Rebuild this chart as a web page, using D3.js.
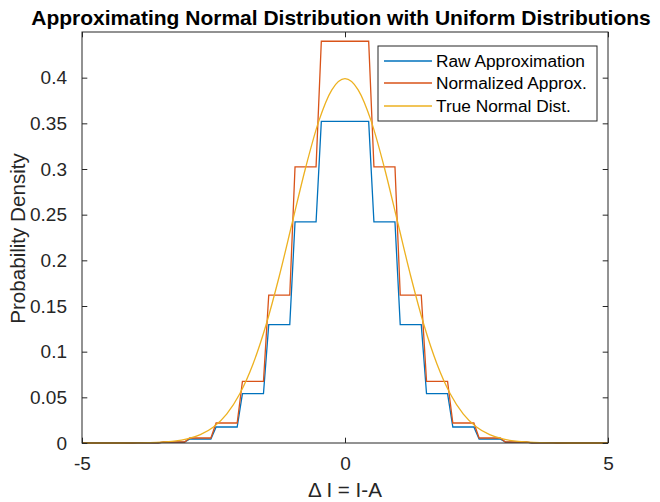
<!DOCTYPE html>
<html>
<head>
<meta charset="utf-8">
<script src="https://cdn.jsdelivr.net/npm/d3@7"></script>
<style>
  html, body { margin: 0; padding: 0; background: #fff; }
  svg { display: block; }
  text { font-family: "Liberation Sans", Arial, Helvetica, sans-serif; }
</style>
</head>
<body>
<svg id="chart" width="660" height="502"></svg>
<script>
// ---- Data ----
const titleText = "Approximating Normal Distribution with Uniform Distributions";
const xLabelText = "\u0394 I = I-A";
const yLabelText = "Probability Density";
const seriesNames = ["Raw Approximation", "Normalized Approx.", "True Normal Dist."];
const seriesColors = ["#0072BD", "#D95319", "#EDB120"];

// Uniform bins of width 0.5 (left edges)
const binLeft = [-5, -4.5, -4, -3.5, -3, -2.5, -2, -1.5, -1, -0.5, 0, 0.5, 1, 1.5, 2, 2.5, 3, 3.5, 4, 4.5];
const binWidth = 0.5;
const rawDensity = [0.0000, 0.0000, 0.0001, 0.0009, 0.0044, 0.0175, 0.0540, 0.1295, 0.2420, 0.3521,
                    0.3521, 0.2420, 0.1295, 0.0540, 0.0175, 0.0044, 0.0009, 0.0001, 0.0000, 0.0000];
const normDensity = [0.0000, 0.0000, 0.0001, 0.0011, 0.0055, 0.0219, 0.0675, 0.1618, 0.3023, 0.4399,
                     0.4399, 0.3023, 0.1618, 0.0675, 0.0219, 0.0055, 0.0011, 0.0001, 0.0000, 0.0000];

// True normal density, sampled
const normalX = [-5, -4.5, -4, -3.75, -3.5, -3.25, -3, -2.75, -2.5, -2.25, -2, -1.75, -1.5, -1.25, -1, -0.75, -0.5, -0.25,
                 0, 0.25, 0.5, 0.75, 1, 1.25, 1.5, 1.75, 2, 2.25, 2.5, 2.75, 3, 3.25, 3.5, 3.75, 4, 4.5, 5];
const normalY = [0.0000, 0.0000, 0.0001, 0.0004, 0.0009, 0.0020, 0.0044, 0.0091, 0.0175, 0.0317, 0.0540, 0.0863, 0.1295, 0.1826, 0.2420, 0.3011, 0.3521, 0.3867,
                 0.3989, 0.3867, 0.3521, 0.3011, 0.2420, 0.1826, 0.1295, 0.0863, 0.0540, 0.0317, 0.0175, 0.0091, 0.0044, 0.0020, 0.0009, 0.0004, 0.0001, 0.0000, 0.0000];

const xTicks = [-5, 0, 5];
const xTickLabels = ["-5", "0", "5"];
const yTicks = [0, 0.05, 0.1, 0.15, 0.2, 0.25, 0.3, 0.35, 0.4];
const yTickLabels = ["0", "0.05", "0.1", "0.15", "0.2", "0.25", "0.3", "0.35", "0.4"];
const xDomain = [-5, 5];
const yDomain = [0, 0.45];

// ---- Layout ----
const plot = { left: 82, right: 608, top: 32, bottom: 443 };
const axisColor = "#262626";
const tickFont = 19, labelFont = 20.6, legendFont = 17.3, titleFont = 21;
const tickLen = 5.3;
const edgeHalf = 0.05; // sampling half-width of the transitions between bins

const svg = d3.select("#chart");
const x = d3.scaleLinear().domain(xDomain).range([plot.left, plot.right]);
const y = d3.scaleLinear().domain(yDomain).range([plot.bottom, plot.top]);

// Build step vertices from bins
function stepPoints(vals) {
  const pts = [];
  binLeft.forEach((l, i) => {
    const r = l + binWidth;
    const a = (i === 0) ? l : l + edgeHalf;
    const b = (i === binLeft.length - 1) ? r : r - edgeHalf;
    pts.push([a, vals[i]], [b, vals[i]]);
  });
  return pts;
}

const line = d3.line().x(d => x(d[0])).y(d => y(d[1]));
const curve = d3.line().x(d => x(d[0])).y(d => y(d[1])).curve(d3.curveMonotoneX);

const gPlot = svg.append("g");
gPlot.append("path").attr("d", line(stepPoints(rawDensity)))
  .attr("fill", "none").attr("stroke", seriesColors[0]).attr("stroke-width", 1.3);
gPlot.append("path").attr("d", line(stepPoints(normDensity)))
  .attr("fill", "none").attr("stroke", seriesColors[1]).attr("stroke-width", 1.3);
gPlot.append("path").attr("d", curve(normalX.map((v, i) => [v, normalY[i]])))
  .attr("fill", "none").attr("stroke", seriesColors[2]).attr("stroke-width", 1.3);

// ---- Axes (box with inward ticks on all sides) ----
const gAx = svg.append("g");
const bottomAxis = d3.axisBottom(x).tickValues(xTicks).tickSizeInner(-tickLen).tickSizeOuter(0).tickPadding(14)
  .tickFormat((d, i) => xTickLabels[i]);
const topAxis = d3.axisTop(x).tickValues(xTicks).tickSizeInner(-tickLen).tickSizeOuter(0).tickFormat("");
const leftAxis = d3.axisLeft(y).tickValues(yTicks).tickSizeInner(-tickLen).tickSizeOuter(0).tickPadding(15)
  .tickFormat((d, i) => yTickLabels[i]);
const rightAxis = d3.axisRight(y).tickValues(yTicks).tickSizeInner(-tickLen).tickSizeOuter(0).tickFormat("");

function styleAxis(g) {
  g.select(".domain").remove();
  g.selectAll(".tick line").attr("stroke", axisColor).attr("stroke-width", 1);
  g.selectAll(".tick text").attr("fill", axisColor).attr("font-family", null).style("font-size", tickFont + "px");
}
gAx.append("g").attr("transform", `translate(0,${plot.bottom})`).call(bottomAxis).call(styleAxis);
gAx.append("g").attr("transform", `translate(0,${plot.top})`).call(topAxis).call(styleAxis);
gAx.append("g").attr("transform", `translate(${plot.left},0)`).call(leftAxis).call(styleAxis);
gAx.append("g").attr("transform", `translate(${plot.right},0)`).call(rightAxis).call(styleAxis);

gAx.append("rect")
  .attr("x", plot.left).attr("y", plot.top)
  .attr("width", plot.right - plot.left).attr("height", plot.bottom - plot.top)
  .attr("fill", "none").attr("stroke", axisColor).attr("stroke-width", 1);

// ---- Labels ----
svg.append("text").attr("x", (plot.left + plot.right) / 2 - 4).attr("y", 25)
  .attr("text-anchor", "middle").attr("fill", "#000")
  .style("font-size", titleFont + "px").style("font-weight", "bold").text(titleText);
svg.append("text").attr("x", (plot.left + plot.right) / 2).attr("y", 497)
  .attr("text-anchor", "middle").attr("fill", axisColor)
  .style("font-size", labelFont + "px").text(xLabelText);
svg.append("text").attr("transform", `translate(25,${(plot.top + plot.bottom) / 2 + 1}) rotate(-90)`)
  .attr("text-anchor", "middle").attr("fill", axisColor)
  .style("font-size", labelFont + "px").text(yLabelText);

// ---- Legend ----
const leg = { x: 378, y: 46, w: 219, h: 75 };
const gLeg = svg.append("g");
gLeg.append("rect").attr("x", leg.x).attr("y", leg.y).attr("width", leg.w).attr("height", leg.h)
  .attr("fill", "#fff").attr("stroke", axisColor).attr("stroke-width", 1);
const rowY = [61, 83, 106];
seriesNames.forEach((name, i) => {
  gLeg.append("line").attr("x1", leg.x + 6).attr("x2", leg.x + 54)
    .attr("y1", rowY[i]).attr("y2", rowY[i])
    .attr("stroke", seriesColors[i]).attr("stroke-width", 1.3);
  gLeg.append("text").attr("x", leg.x + 58).attr("y", rowY[i]).attr("dy", "0.35em")
    .attr("fill", "#000").style("font-size", legendFont + "px").text(name);
});
</script>
</body>
</html>
